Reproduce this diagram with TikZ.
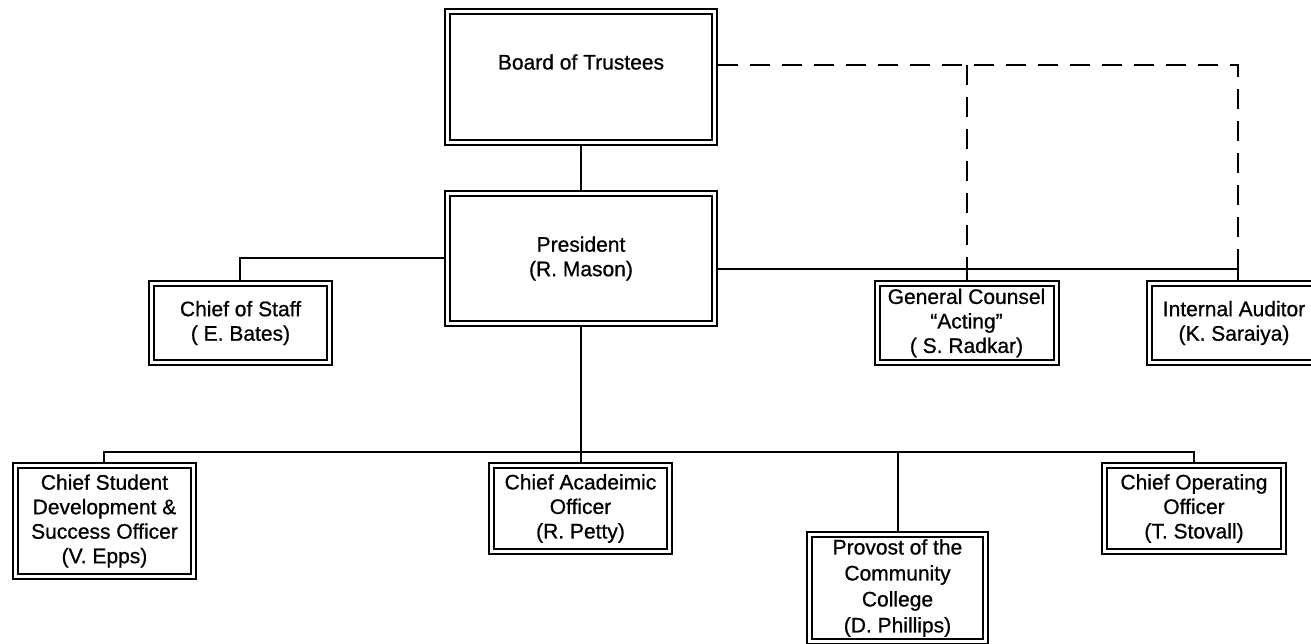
\documentclass[tikz,border=0pt]{standalone}
\usepackage{fontspec}
\setmainfont{Liberation Sans}[FakeBold=0.8]
\begin{document}
\begin{tikzpicture}[x=1pt,y=-1pt,
  box/.style={draw=black, double=white, double distance=3pt, line width=2pt, fill=white,
    inner sep=0pt, outer sep=3.5pt, align=center,
    font=\fontsize{21}{24.5}\selectfont},
  conn/.style={draw=black, line width=2pt},
  dashline/.style={draw=black, line width=2pt, dash pattern=on 20pt off 12pt}]
\useasboundingbox[fill=white] (0,0) rectangle (1311,644);

% junction points of the connectors
\coordinate (dr) at (1238,65);
\coordinate (dm) at (967,65);
\coordinate (hr) at (1238,269);
\coordinate (hl) at (240,258);
\coordinate (bl) at (104,452);
\coordinate (br) at (1194,452);

% boxes
\node[box, minimum width=267pt, minimum height=131pt, text height=15pt, text depth=30pt] (bot) at (581,77) {Board of Trustees};
\node[box, minimum width=267pt, minimum height=130pt] (pres) at (581,258.5) {President\\(R. Mason)};
\node[box, minimum width=178pt, minimum height=79pt] (cos) at (240.5,323) {Chief of Staff\\( E. Bates)};
\node[box, minimum width=179pt, minimum height=79pt] (gc) at (966.5,323) {General Counsel\\“Acting”\\( S. Radkar)};
\node[box, minimum width=169pt, minimum height=79pt] (ia) at (1234,323) {Internal Auditor\\(K. Saraiya)};
\node[box, minimum width=178pt, minimum height=111pt] (csd) at (104.5,521) {Chief Student\\Development \&\\Success Officer\\(V. Epps)};
\node[box, minimum width=178pt, minimum height=86pt] (cao) at (580.5,508.5) {Chief Acadeimic\\Officer\\(R. Petty)};
\node[box, minimum width=176pt, minimum height=107pt, font=\fontsize{21}{26}\selectfont] (prov) at (897.5,588) {Provost of the\\Community\\College\\(D. Phillips)};
\node[box, minimum width=179pt, minimum height=86pt] (coo) at (1194,508.5) {Chief Operating\\Officer\\(T. Stovall)};

% connectors
\draw[conn] (bot.south) -- (pres.north);
\draw[dashline] (bot.east |- dr) -- (dr) -- (hr);
\draw[dashline] (dm) -- (dm |- hr);
\draw[conn] (pres.east |- hr) -- (hr) -- (ia.north -| hr);
\draw[conn] (dm |- hr) -- (dm |- gc.north);
\draw[conn] (pres.west |- hl) -- (hl) -- (cos.north -| hl);
\draw[conn] (pres.south) -- (pres.south |- bl);
\draw[conn] (csd.north -| bl) -- (bl) -- (br) -- (coo.north -| br);
\draw[conn] (cao.north |- bl) -- (cao.north);
\draw[conn] (prov.north |- bl) -- (prov.north);
\end{tikzpicture}
\end{document}
